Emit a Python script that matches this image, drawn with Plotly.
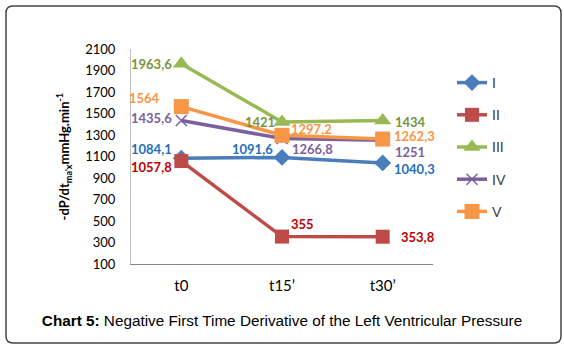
import plotly.graph_objects as go

categories = ["t0", "t15\u2019", "t30\u2019"]
series_names = ["I", "II", "III", "IV", "V"]
values_I = [1084.1, 1091.6, 1040.3]
values_II = [1057.8, 355, 353.8]
values_III = [1963.6, 1421, 1434]
values_IV = [1435.6, 1266.8, 1251]
values_V = [1564, 1297.2, 1262.3]
y_ticks = [100, 300, 500, 700, 900, 1100, 1300, 1500, 1700, 1900, 2100]

series_values = [values_I, values_II, values_III, values_IV, values_V]
line_colors = ["#4A7EBB", "#BE4B48", "#98B954", "#7D60A0", "#F79646"]
label_colors = ["#1F6FC0", "#C00000", "#77933C", "#7D60A0", "#F79646"]
symbols = ["diamond", "square", "triangle-up", "x-thin", "square"]
sizes = [13, 14, 15, 11, 15]

# label placement per point: (xanchor, xshift, yshift)
label_pos = [
    [("right", -7, 9), ("right", -7, 8), ("left", 9, -6)],
    [("right", -7, -6), ("left", 7, 13), ("left", 16, 0)],
    [("right", -7, 0), ("right", -5, 0), ("left", 10, -1)],
    [("right", -7, 2), ("left", 8, -10), ("left", 10, -12)],
    [("right", -19, 9), ("left", 7, 6), ("left", 9, 3)],
]

FONT = "Lato, 'Liberation Sans', Arial, sans-serif"

fig = go.Figure()
for i, name in enumerate(series_names):
    fig.add_trace(go.Scatter(
        x=categories, y=series_values[i], name=name, mode="lines+markers",
        line=dict(color=line_colors[i], width=3.5),
        marker=dict(symbol=symbols[i], size=sizes[i], color=line_colors[i],
                    line=dict(color=line_colors[i], width=1.5 if symbols[i] == "x-thin" else 0)),
        legendgroup=name,
    ))

annotations = []
for i in range(len(series_names)):
    for j, cat in enumerate(categories):
        anc, xs, ys = label_pos[i][j]
        v = series_values[i][j]
        txt = ("%g" % v).replace(".", ",")
        annotations.append(dict(
            x=cat, y=v, xref="x", yref="y", text="<b>%s</b>" % txt,
            showarrow=False, xanchor=anc, yanchor="middle", xshift=xs, yshift=ys,
            font=dict(family=FONT, size=13, color=label_colors[i])))

annotations.append(dict(
    xref="paper", yref="paper", x=-0.222, y=0.5,
    text="<b>-dP/dt<sub>ma'x</sub>mmHg.min<sup>-1</sup></b>",
    textangle=-90, showarrow=False, xanchor="center", yanchor="middle",
    font=dict(family=FONT, size=13, color="#000000")))

L, R, T, B = 131, 131, 49, 86
W, H = 564, 350
pw, ph = W - L - R, H - T - B

def px(xp):
    return (xp - L) / pw

def py(yp):
    return (H - B - yp) / ph

x0, x1, y0, y1, r = 6, 561, 6, 343, 7
path = (f"M {px(x0 + r)},{py(y0)} L {px(x1 - r)},{py(y0)} Q {px(x1)},{py(y0)} {px(x1)},{py(y0 + r)} "
        f"L {px(x1)},{py(y1 - r)} Q {px(x1)},{py(y1)} {px(x1 - r)},{py(y1)} "
        f"L {px(x0 + r)},{py(y1)} Q {px(x0)},{py(y1)} {px(x0)},{py(y1 - r)} "
        f"L {px(x0)},{py(y0 + r)} Q {px(x0)},{py(y0)} {px(x0 + r)},{py(y0)} Z")

fig.update_layout(
    width=W, height=H,
    margin=dict(l=L, r=R, t=T, b=B, pad=0),
    paper_bgcolor="white", plot_bgcolor="white",
    font=dict(family=FONT, color="#000000"),
    showlegend=True,
    legend=dict(xref="container", yref="container", x=452 / W, y=1 - 67 / H,
                xanchor="left", yanchor="top", tracegroupgap=11,
                font=dict(family=FONT, size=14, color="#404040"),
                bgcolor="rgba(0,0,0,0)", itemwidth=30),
    xaxis=dict(type="category", range=[-0.5, 2.5], showgrid=False, zeroline=False,
               showline=True, linecolor="#868686", linewidth=1, ticks="",
               tickfont=dict(family=FONT, size=15, color="#000000"), ticklabelstandoff=8),
    yaxis=dict(range=[100, 2100], tickvals=y_ticks, showgrid=False, zeroline=False,
               showline=True, linecolor="#BFBFBF", linewidth=1, ticks="",
               tickfont=dict(family=FONT, size=13, color="#000000"), ticklabelstandoff=12),
    title=dict(text="<b>Chart 5:</b> Negative First Time Derivative of the Left Ventricular Pressure",
               x=0.5, xref="container", y=1 - 321 / H, yref="container",
               xanchor="center", yanchor="middle",
               font=dict(family="'Liberation Sans', Arial, sans-serif", size=15.3, color="#000000")),
    annotations=annotations,
    shapes=[dict(type="path", path=path, xref="paper", yref="paper",
                 line=dict(color="#444444", width=1.5), layer="above")],
    hovermode=False,
)

fig.write_html("out.html", config={"displayModeBar": False, "staticPlot": True},
               post_script="document.body.style.margin='0';document.body.style.padding='0';")
